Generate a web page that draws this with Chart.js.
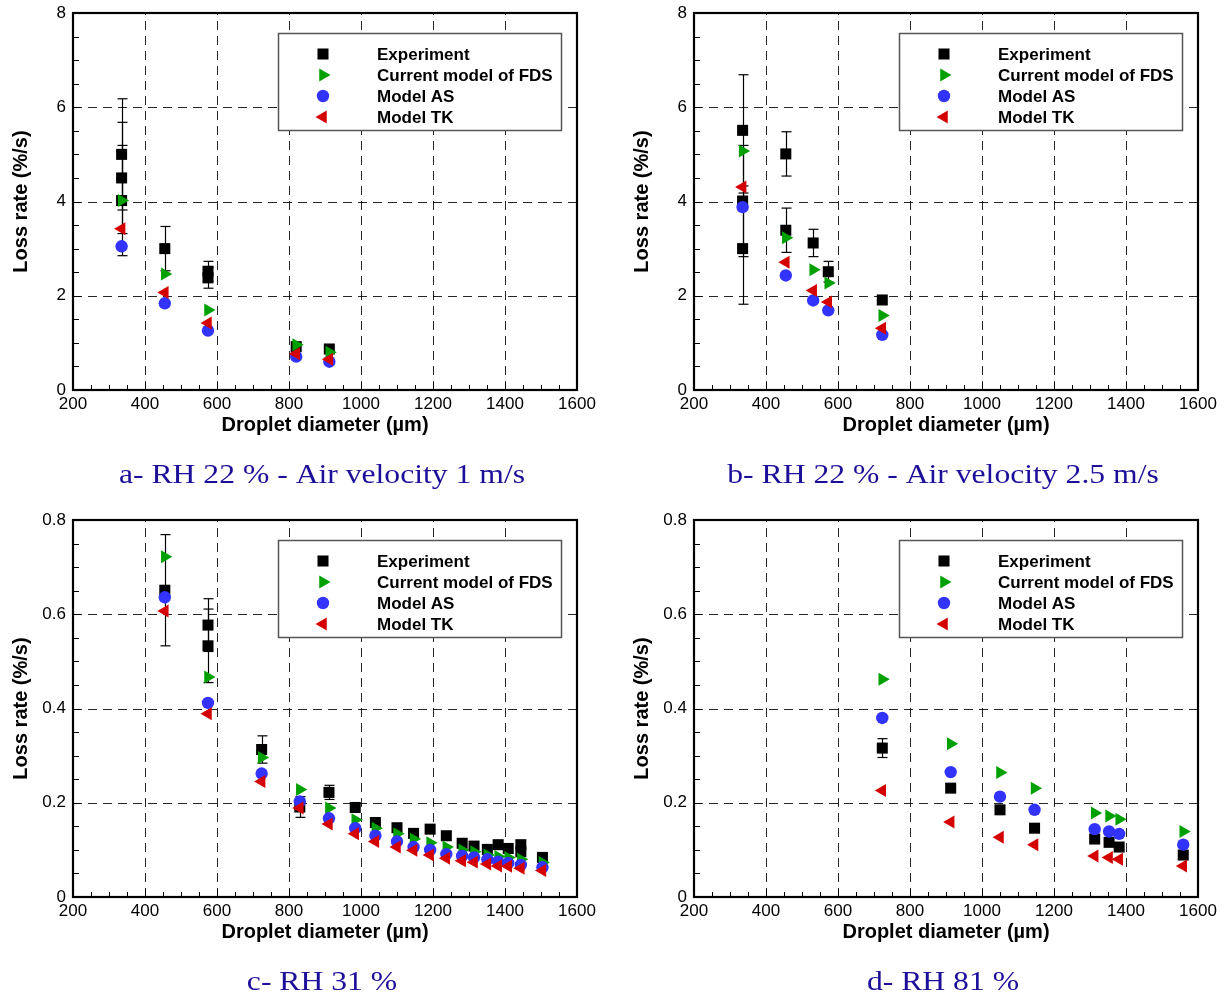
<!DOCTYPE html>
<html>
<head>
<meta charset="utf-8">
<script src="https://cdn.jsdelivr.net/npm/chart.js@4.4.1/dist/chart.umd.min.js"></script>
<style>
  body { margin: 0; background: #fff; width: 1226px; height: 997px; overflow: hidden; position: relative; }
  canvas { position: absolute; }
</style>
</head>
<body>
<canvas id="chartA" width="600" height="490" style="left:0;top:0"></canvas>
<canvas id="chartB" width="600" height="490" style="left:621px;top:0"></canvas>
<canvas id="chartC" width="600" height="490" style="left:0;top:507px"></canvas>
<canvas id="chartD" width="600" height="490" style="left:621px;top:507px"></canvas>
<script>
// ---- data ----
const seriesNames = ['Experiment', 'Current model of FDS', 'Model AS', 'Model TK'];
const xTicks = [200, 400, 600, 800, 1000, 1200, 1400, 1600];
const yTicksTop = [0, 2, 4, 6, 8];
const yLabelsTop = ['0', '2', '4', '6', '8'];
const yTicksBottom = [0, 0.2, 0.4, 0.6, 0.8];
const yLabelsBottom = ['0', '0.2', '0.4', '0.6', '0.8'];

// a- RH 22 %, 1 m/s
const aExpX = [335, 335, 335, 455, 575, 575, 820, 912];
const aExpY = [5.0, 4.5, 4.02, 3.0, 2.52, 2.38, 0.92, 0.87];
const aExpErr = [1.18, 1.18, 1.17, 0.47, 0.21, 0.22, 0, 0];
const aModelX = [335, 455, 575, 820, 912];
const aFDS = [4.02, 2.46, 1.70, 0.96, 0.80];
const aAS = [3.05, 1.84, 1.26, 0.71, 0.60];
const aTK = [3.42, 2.07, 1.42, 0.77, 0.65];

// b- RH 22 %, 2.5 m/s
const bExpX = [335, 335, 335, 455, 455, 531, 573, 723];
const bExpY = [5.51, 4.01, 3.0, 5.01, 3.39, 3.12, 2.51, 1.91];
const bExpErr = [1.18, 1.18, 1.18, 0.47, 0.47, 0.29, 0.22, 0];
const bModelX = [335, 455, 531, 573, 723];
const bFDS = [5.07, 3.23, 2.55, 2.27, 1.58];
const bAS = [3.88, 2.43, 1.90, 1.69, 1.17];
const bTK = [4.31, 2.71, 2.11, 1.87, 1.31];

// c- RH 31 %
const cExpX = [455, 575, 575, 724, 830, 911, 984, 1040, 1100, 1146, 1192, 1237, 1281, 1314, 1351, 1381, 1409, 1444, 1444, 1504];
const cExpY = [0.651, 0.577, 0.533, 0.313, 0.191, 0.222, 0.190, 0.158, 0.147, 0.135, 0.144, 0.130, 0.114, 0.108, 0.101, 0.111, 0.103, 0.111, 0.096, 0.084];
const cExpErr = [0.118, 0.056, 0.078, 0.029, 0.022, 0.015, 0, 0, 0, 0, 0, 0, 0, 0, 0, 0, 0, 0, 0, 0];
const cModelX = [455, 575, 724, 830, 911, 984, 1040, 1100, 1146, 1192, 1237, 1281, 1314, 1351, 1381, 1409, 1444, 1504];
const cFDS = [0.722, 0.467, 0.296, 0.228, 0.189, 0.164, 0.146, 0.134, 0.123, 0.115, 0.106, 0.100, 0.096, 0.089, 0.086, 0.084, 0.080, 0.073];
const cAS = [0.636, 0.412, 0.262, 0.203, 0.167, 0.146, 0.130, 0.118, 0.106, 0.100, 0.091, 0.087, 0.084, 0.080, 0.075, 0.072, 0.068, 0.063];
const cTK = [0.607, 0.389, 0.245, 0.189, 0.155, 0.134, 0.118, 0.106, 0.099, 0.089, 0.082, 0.077, 0.074, 0.070, 0.066, 0.065, 0.061, 0.056];

// d- RH 81 %
const dExpX = [723, 913, 1050, 1146, 1313, 1353, 1381, 1559];
const dExpY = [0.316, 0.231, 0.185, 0.146, 0.123, 0.116, 0.106, 0.089];
const dExpErr = [0.02, 0, 0, 0, 0, 0, 0, 0];
const dModelX = [723, 913, 1050, 1146, 1313, 1353, 1381, 1559];
const dFDS = [0.462, 0.325, 0.264, 0.231, 0.178, 0.172, 0.165, 0.139];
const dAS = [0.380, 0.265, 0.213, 0.185, 0.144, 0.139, 0.134, 0.111];
const dTK = [0.226, 0.159, 0.127, 0.111, 0.087, 0.084, 0.080, 0.066];

// ---- styling ----
const COLORS = ['#000000', '#00a000', '#3333ff', '#d40000'];
const STYLES = [
  { pointStyle: 'rect', radius: 7.8, rotation: 0 },
  { pointStyle: 'triangle', radius: 7.5, rotation: 90 },
  { pointStyle: 'circle', radius: 6.2, rotation: 0 },
  { pointStyle: 'triangle', radius: 7.5, rotation: -90 }
];
const SANS = '"Liberation Sans", Arial, sans-serif';
const SERIF = '"Liberation Serif", "Times New Roman", serif';

function pts(xs, ys) {
  return xs.map((x, i) => ({ x: x, y: ys[i] }));
}

// draws dashed grid, inward ticks, error bars, frame, legend, titles
function decoPlugin(p) {
  function seg(ctx, x1, y1, x2, y2) {
    ctx.beginPath(); ctx.moveTo(x1, y1); ctx.lineTo(x2, y2); ctx.stroke();
  }
  return {
    id: 'deco',
    beforeDatasetsDraw(chart) {
      const ctx = chart.ctx, a = chart.chartArea;
      const xs = chart.scales.x, ys = chart.scales.y;
      ctx.save();
      ctx.strokeStyle = 'rgba(0,0,0,0.85)';
      ctx.lineWidth = 1;
      ctx.setLineDash([9, 6]);
      xTicks.slice(1, -1).forEach(v => {
        const px = Math.round(xs.getPixelForValue(v)) + 0.5;
        seg(ctx, px, a.bottom, px, a.top);
      });
      p.yTicks.slice(1, -1).forEach(v => {
        const py = Math.round(ys.getPixelForValue(v)) + 0.5;
        seg(ctx, a.left, py, a.right, py);
      });
      ctx.setLineDash([]);
      ctx.strokeStyle = '#000';
      // x minor ticks every 50, majors every 200
      for (let v = xTicks[0]; v <= xTicks[xTicks.length - 1]; v += 50) {
        const px = Math.round(xs.getPixelForValue(v)) + 0.5;
        const len = (v % 200 === 0) ? 8 : 5;
        seg(ctx, px, a.bottom, px, a.bottom - len);
      }
      // y minor ticks (4 per major)
      const yMax = p.yTicks[p.yTicks.length - 1];
      for (let k = 0; k <= 16; k++) {
        const v = yMax * k / 16;
        const py = Math.round(ys.getPixelForValue(v)) + 0.5;
        const len = (k % 4 === 0) ? 8 : 6;
        seg(ctx, a.left, py, a.left + len, py);
      }
      // error bars of the experiment
      ctx.lineWidth = 1.2;
      p.expX.forEach((xv, i) => {
        const e = p.expErr[i];
        if (!e) return;
        const px = Math.round(xs.getPixelForValue(xv)) + 0.5;
        const top = ys.getPixelForValue(p.expY[i] + e);
        const bot = ys.getPixelForValue(p.expY[i] - e);
        seg(ctx, px, top, px, bot);
        seg(ctx, px - 5, top, px + 5, top);
        seg(ctx, px - 5, bot, px + 5, bot);
      });
      ctx.restore();
    },
    afterDatasetsDraw(chart) {
      const ctx = chart.ctx, a = chart.chartArea;
      ctx.save();
      // frame
      ctx.strokeStyle = '#000';
      ctx.lineWidth = 2.2;
      ctx.strokeRect(a.left, a.top, a.right - a.left, a.bottom - a.top);

      // legend box
      const bx = a.left + 205, by = a.top + 20;
      const bw = (a.right - 16) - bx, bh = 97;
      ctx.fillStyle = '#fff';
      ctx.fillRect(bx, by, bw, bh);
      ctx.strokeStyle = '#555';
      ctx.lineWidth = 1.5;
      ctx.strokeRect(bx + 0.5, by + 0.5, bw, bh);
      ctx.font = 'bold 17px ' + SANS;
      ctx.textAlign = 'left';
      ctx.textBaseline = 'alphabetic';
      seriesNames.forEach((name, i) => {
        const ry = by + 21 + i * 21;
        ctx.fillStyle = COLORS[i];
        ctx.strokeStyle = COLORS[i];
        Chart.helpers.drawPoint(ctx, {
          pointStyle: STYLES[i].pointStyle,
          radius: STYLES[i].radius,
          rotation: STYLES[i].rotation,
          borderWidth: 0
        }, bx + 45, ry);
        ctx.fillStyle = '#000';
        ctx.fillText(name, bx + 99, ry + 6);
      });

      // axis titles
      ctx.fillStyle = '#000';
      ctx.font = 'bold 20px ' + SANS;
      ctx.textAlign = 'center';
      ctx.fillText('Droplet diameter (\u00b5m)', (a.left + a.right) / 2, a.bottom + 41);
      ctx.save();
      ctx.translate(27, (a.top + a.bottom) / 2);
      ctx.rotate(-Math.PI / 2);
      ctx.fillText('Loss rate (%/s)', 0, 0);
      ctx.restore();

      // caption
      ctx.save();
      ctx.fillStyle = '#1c0f99';
      ctx.font = '28px ' + SERIF;
      ctx.translate((a.left + a.right) / 2 - 3, a.bottom + 93);
      ctx.scale(1.13, 1);
      ctx.fillText(p.caption, 0, 0);
      ctx.restore();
      ctx.restore();
    }
  };
}

function makePanel(id, p) {
  const modelSets = [p.fds, p.as, p.tk];
  const datasets = [{
    label: seriesNames[0],
    data: pts(p.expX, p.expY),
    order: 4
  }].concat(modelSets.map((ys, k) => ({
    label: seriesNames[k + 1],
    data: pts(p.modelX, ys),
    order: 3 - k
  })));
  datasets.forEach((ds, i) => {
    ds.backgroundColor = COLORS[i];
    ds.borderColor = COLORS[i];
    ds.borderWidth = 0;
    ds.pointStyle = STYLES[i].pointStyle;
    ds.pointRadius = STYLES[i].radius;
    ds.pointRotation = STYLES[i].rotation;
    ds.pointHoverRadius = STYLES[i].radius;
  });

  new Chart(document.getElementById(id), {
    type: 'scatter',
    data: { datasets: datasets },
    options: {
      responsive: false,
      animation: false,
      events: [],
      layout: { padding: { left: 0, top: 13, right: 23, bottom: 0 } },
      plugins: {
        legend: { display: false },
        tooltip: { enabled: false },
        title: { display: false }
      },
      scales: {
        x: {
          type: 'linear',
          min: xTicks[0],
          max: xTicks[xTicks.length - 1],
          afterBuildTicks: s => { s.ticks = xTicks.map(v => ({ value: v })); },
          afterFit: s => { s.height = 100; },
          grid: { display: false, drawTicks: false },
          border: { display: false },
          ticks: {
            autoSkip: false,
            maxRotation: 0,
            padding: 4,
            color: '#000',
            font: { family: SANS, size: 17 },
            callback: v => String(v)
          }
        },
        y: {
          type: 'linear',
          min: p.yTicks[0],
          max: p.yTicks[p.yTicks.length - 1],
          afterBuildTicks: s => { s.ticks = p.yTicks.map(v => ({ value: v })); },
          afterFit: s => { s.width = 73; s.paddingTop = 0; s.paddingBottom = 0; },
          grid: { display: false, drawTicks: false },
          border: { display: false },
          ticks: {
            autoSkip: false,
            padding: 7,
            color: '#000',
            font: { family: SANS, size: 17 },
            callback: (v, i) => p.yLabels[i]
          }
        }
      }
    },
    plugins: [decoPlugin(p)]
  });
}

makePanel('chartA', {
  expX: aExpX, expY: aExpY, expErr: aExpErr, modelX: aModelX,
  fds: aFDS, as: aAS, tk: aTK, yTicks: yTicksTop, yLabels: yLabelsTop,
  caption: 'a- RH 22 % - Air velocity 1 m/s'
});
makePanel('chartB', {
  expX: bExpX, expY: bExpY, expErr: bExpErr, modelX: bModelX,
  fds: bFDS, as: bAS, tk: bTK, yTicks: yTicksTop, yLabels: yLabelsTop,
  caption: 'b- RH 22 % - Air velocity 2.5 m/s'
});
makePanel('chartC', {
  expX: cExpX, expY: cExpY, expErr: cExpErr, modelX: cModelX,
  fds: cFDS, as: cAS, tk: cTK, yTicks: yTicksBottom, yLabels: yLabelsBottom,
  caption: 'c- RH 31 %'
});
makePanel('chartD', {
  expX: dExpX, expY: dExpY, expErr: dExpErr, modelX: dModelX,
  fds: dFDS, as: dAS, tk: dTK, yTicks: yTicksBottom, yLabels: yLabelsBottom,
  caption: 'd- RH 81 %'
});
</script>
</body>
</html>
